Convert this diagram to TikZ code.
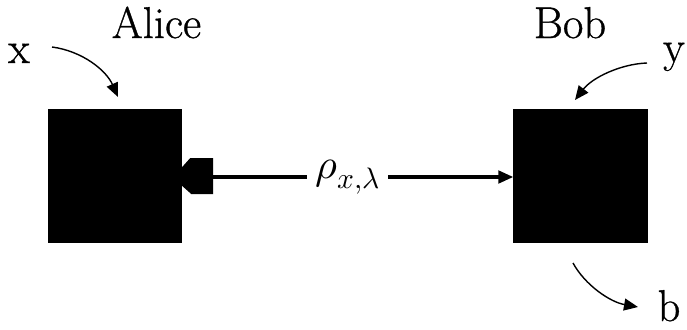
\documentclass[tikz,border=0pt]{standalone}
\usepackage{amsmath}
\usepackage{fontspec}
\usepackage{unicode-math}
\newfontfamily\tagfont[FakeBold=0.8]{Latin Modern Roman}
\usepackage{tikz}
\usetikzlibrary{arrows.meta,calc}

\begin{document}
\begin{tikzpicture}[
			x=0.03cm, y=-0.03cm,
			party/.style={fill=black, minimum size=4.02cm, inner sep=0pt},
			tag/.style={anchor=base, inner sep=0pt, font=\tagfont\fontsize{38}{40}\selectfont},
			link/.style={-{Triangle[length=0.45cm,width=0.38cm]}, line width=2.6pt},
			io/.style={-{Triangle[length=0.42cm,width=0.36cm]}, line width=1.2pt}
			]
			\useasboundingbox (0,0) rectangle (687,330);
			\node[party] (alice) at (115,176) {};
			\node[party] (bob) at (580.5,176) {};
			\node[tag] (alicelab) at (156.5,38) {Alice};
			\node[tag] (boblab) at (570,38) {Bob};
			\node[tag] (xlab) at (19,63) {x};
			\node[tag] (ylab) at (674,62) {y};
			\node[tag] (blab) at (669,321) {b};
			% source plug on Alice
			\fill ($(alice.east)+(0,-9)$) -- ($(alice.east)+(8,-18)$) -- ($(alice.east)+(31,-18)$)
				-- ($(alice.east)+(31,18)$) -- ($(alice.east)+(9,18)$) -- ($(alice.east)+(0,10)$) -- cycle;
			\coordinate (plug) at ($(alice.east)+(30,1)$);
			\draw[link] (plug) -- node[pos=0.45, fill=white, inner sep=7pt, font=\fontsize{36}{40}\selectfont] (rho) {$\rho_{x,\lambda}$} (bob.west |- plug);
			% inputs and output
			\coordinate (xin) at (52,47);
			\coordinate (xout) at (118,97);
			\coordinate (yin) at (647,63);
			\coordinate (yout) at (575,100);
			\coordinate (bin) at (573,263);
			\coordinate (bout) at (638,307);
			\draw[io] (xin) .. controls (82,51) and (106,70) .. (xout);
			\draw[io] (yin) .. controls (620,64) and (592,78) .. (yout);
			\draw[io] (bin) .. controls (585,285) and (610,302) .. (bout);
		\end{tikzpicture}
\end{document}
